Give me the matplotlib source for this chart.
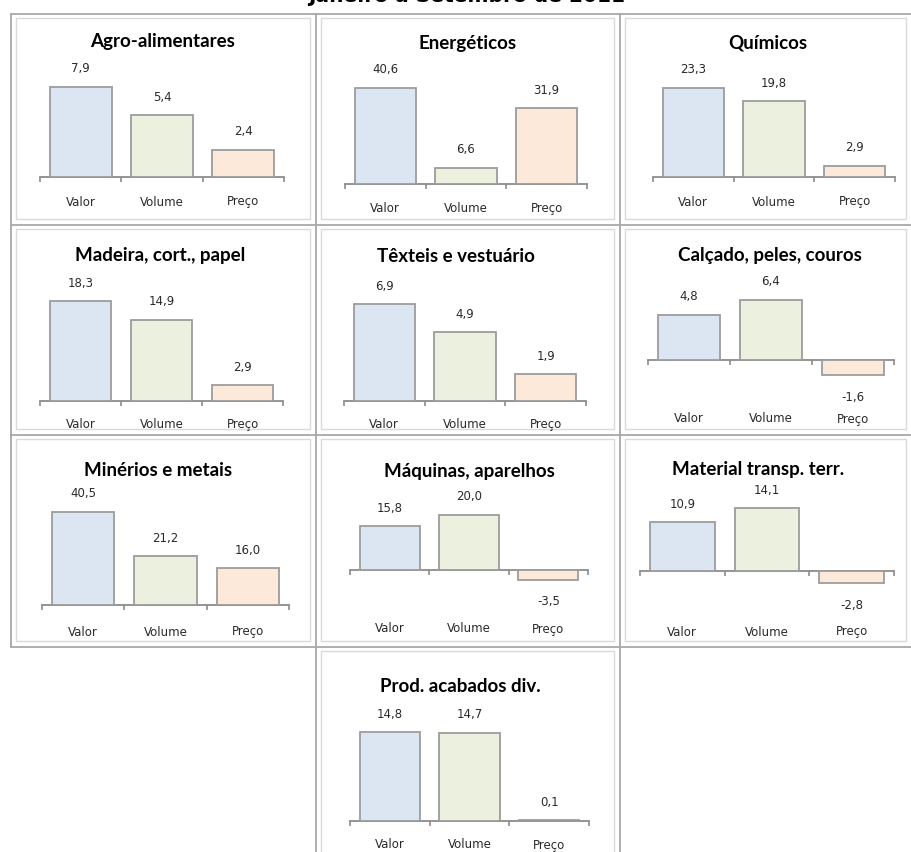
import matplotlib
matplotlib.use("Agg")
import matplotlib.pyplot as plt

# ---------------- data ----------------
categories = ["Valor", "Volume", "Preço"]
titles = ["Agro-alimentares", "Energéticos", "Químicos",
          "Madeira, cort., papel", "Têxteis e vestuário", "Calçado, peles, couros",
          "Minérios e metais", "Máquinas, aparelhos", "Material transp. terr.",
          "Prod. acabados div."]
valor = [7.9, 40.6, 23.3, 18.3, 6.9, 4.8, 40.5, 15.8, 10.9, 14.8]
volume = [5.4, 6.6, 19.8, 14.9, 4.9, 6.4, 21.2, 20.0, 14.1, 14.7]
preco = [2.4, 31.9, 2.9, 2.9, 1.9, -1.6, 16.0, -3.5, -2.8, 0.1]
ylims = [(0, 10), (0, 50), (0, 30), (0, 20), (0, 8), (-2, 8),
         (0, 50), (-5, 25), (-5, 20), (0, 20)]
header = "Janeiro a Setembro de 2011"

# ---------------- layout (pixels) ----------------
W, H = 912, 852
# left, right, baseline, px per unit, category-label offset, title y, title center x
layout = [
    (40, 284, 177, 11.4, 25, 42, 163),
    (345, 587, 183.5, 2.36, 25, 43, 468),
    (653, 895, 177, 3.83, 25, 43, 768),
    (40, 283, 401, 5.45, 23, 255, 160),
    (344, 586, 401, 14.0, 23, 256, 456),
    (648, 894, 360, 9.4, 59, 255, 770),
    (42, 289, 605, 2.3, 27, 470, 158),
    (350, 588, 570, 2.76, 59, 471, 469),
    (640, 894, 571, 4.45, 61, 470, 758),
    (350, 589, 821, 6.0, 24, 686, 460),
]
cells = [
    (11, 316, 14, 225), (316, 620, 14, 225), (620, 912, 14, 225),
    (11, 316, 225, 435), (316, 620, 225, 435), (620, 912, 225, 435),
    (11, 316, 435, 647), (316, 620, 435, 647), (620, 912, 435, 647),
    (316, 620, 647, 860),
]

bar_colors = ["#dce6f2", "#ebf1de", "#fde9d9"]
edge_col = "#9c9c9c"
axis_col = "#8c8c8c"
text_col = "#2a2a2a"

fig = plt.figure(figsize=(W / 100, H / 100), dpi=100)
fig.patch.set_facecolor("white")

bg = fig.add_axes([0, 0, 1, 1])
bg.set_xlim(0, W)
bg.set_ylim(H, 0)
bg.axis("off")

# chart area borders (light) and table grid (darker)
for (x0, x1, y0, y1) in cells:
    bg.add_patch(plt.Rectangle((x0 + 5, y0 + 4), (x1 - x0) - 11, (y1 - y0) - 10,
                               fill=False, edgecolor="#dadada", lw=1.0))
grid_col = "#a8a8a8"
bg.plot([11, W], [14, 14], color=grid_col, lw=1.3)
bg.plot([11, W], [225, 225], color=grid_col, lw=1.3)
bg.plot([11, W], [435, 435], color=grid_col, lw=1.3)
bg.plot([11, W], [647, 647], color=grid_col, lw=1.3)
bg.plot([11, 11], [14, 647], color=grid_col, lw=1.3)
bg.plot([316, 316], [14, H], color=grid_col, lw=1.3)
bg.plot([620, 620], [14, H], color=grid_col, lw=1.3)

# header, mostly cut off at the top edge as in the reference
bg.text(467, 2, header, ha="center", va="baseline", fontsize=14.5,
        fontweight="bold", family="DejaVu Sans", color="black")

title_font = ["Lato", "DejaVu Sans"]
PT = 72 / 100  # points per pixel

for i in range(len(titles)):
    left, right, base, scale, loff, ty, cx = layout[i]
    ymin, ymax = ylims[i]
    top_px = base - ymax * scale
    bot_px = base - ymin * scale
    ax = fig.add_axes([left / W, 1 - bot_px / H, (right - left) / W, (bot_px - top_px) / H])
    ax.set_xlim(-0.5, 2.5)
    ax.set_ylim(ymin, ymax)
    ax.patch.set_alpha(0)
    for s in ["top", "left", "right"]:
        ax.spines[s].set_visible(False)
    ax.spines["bottom"].set_position(("data", 0))
    ax.spines["bottom"].set_color(axis_col)
    ax.spines["bottom"].set_linewidth(1.3)
    ax.spines["bottom"].set_zorder(1)
    ax.set_yticks([])
    ax.set_xticks([-0.5, 0.5, 1.5, 2.5])
    ax.set_xticklabels([])
    ax.tick_params(axis="x", direction="out", length=5 * PT, width=1.2, color=axis_col)

    vals = [valor[i], volume[i], preco[i]]
    ax.bar(range(3), vals, width=0.76, color=bar_colors, edgecolor=edge_col,
           linewidth=1.3, zorder=2)
    for j, v in enumerate(vals):
        lab = f"{v:.1f}".replace(".", ",")
        off = 18 if v >= 0 else -22
        ax.annotate(lab, xy=(j, v), xytext=(0, off * PT), textcoords="offset points",
                    ha="center", va="center", fontsize=8.5, color=text_col,
                    family="DejaVu Sans", annotation_clip=False)
        ax.annotate(categories[j], xy=(j, 0), xytext=(0, -loff * PT),
                    textcoords="offset points", ha="center", va="center",
                    fontsize=8.5, color=text_col, family="DejaVu Sans",
                    annotation_clip=False)
    bg.text(cx, ty, titles[i], ha="center", va="center", fontsize=13.5,
            fontweight="bold", family=title_font, color="black")

fig.savefig("out.png", dpi=100, facecolor="white")
